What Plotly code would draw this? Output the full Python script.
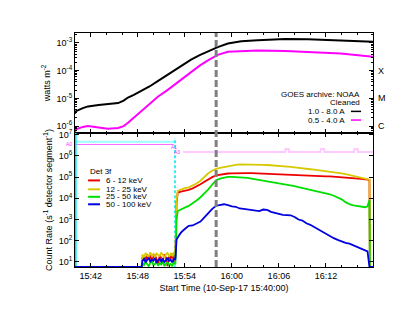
import plotly.graph_objects as go
from plotly.subplots import make_subplots
from datetime import datetime, timedelta

T0 = datetime(2017, 9, 10, 15, 40)

# ---------------- GOES (top panel) : minutes after 15:40, log10(W m^-2)
goes_t = [0, 0.13, 1.0, 1.66, 3.0, 4.2, 5.5, 6.2, 6.76, 7.5, 8.4, 9.5, 10.6, 11.7,
          12.75, 13.8, 14.8, 15.9, 17.0, 18.2, 19.5, 21.2, 23.3, 26.8, 29.7, 33.9, 38.0]
goes_long_log = [-5.55, -5.46, -5.35, -5.29, -5.24, -5.21, -5.17, -5.08, -4.97, -4.87, -4.74,
                 -4.57, -4.37, -4.17, -3.97, -3.78, -3.6, -3.44, -3.3, -3.15, -3.02, -2.94,
                 -2.9, -2.86, -2.87, -2.92, -2.96]
goes_short_log = [-6.2, -6.12, -6.03, -6.0, -6.05, -6.1, -6.07, -6.0, -5.88, -5.7, -5.47,
                  -5.2, -4.93, -4.72, -4.5, -4.27, -4.04, -3.82, -3.62, -3.43, -3.32, -3.29,
                  -3.27, -3.29, -3.32, -3.38, -3.5]

# ---------------- count rates (lower panel): minutes after 15:40, log10(counts)
cnt_t = [0, 8.5,
         8.6, 8.8, 9.0, 9.2, 9.4, 9.6, 9.8, 10.0, 10.2, 10.4, 10.6, 10.8, 11.0, 11.2, 11.4,
         11.6, 11.8, 12.0, 12.2, 12.4, 12.6, 12.8,
         12.95, 13.1, 13.5, 14.0, 14.5, 15.0, 15.5, 16.0, 16.5, 17.0, 17.5, 18.0, 18.5, 19.0,
         19.5, 20.0, 20.5, 21.0, 21.5, 22.0, 22.5, 23.0, 23.5, 24.0, 24.5, 25.0, 25.5, 26.0,
         26.5, 27.0, 27.5, 28.0, 28.5, 29.0, 29.5, 30.0, 30.5, 31.0, 31.5, 32.0, 32.5, 33.0,
         33.5, 34.0, 34.5, 35.0, 35.5, 36.0, 36.5, 37.0, 37.3, 37.55, 37.6, 38.0]

lg_6_12 = [0.76, 0.76,
           1.2, 1.3, 1.05, 1.35, 1.15, 1.3, 1.0, 1.25, 1.35, 1.1, 0.85, 1.3, 1.2, 1.05, 1.35,
           1.2, 0.8, 1.3, 1.15, 1.4, 1.0, 1.25,
           3.8, 4.27, 4.31, 4.35, 4.4, 4.47, 4.56, 4.66, 4.78, 4.9, 5.0, 5.08, 5.12, 5.15,
           5.17, 5.18, 5.19, 5.19, 5.2, 5.19, 5.19, 5.18, 5.18, 5.17, 5.16, 5.15, 5.15, 5.13,
           5.12, 5.11, 5.1, 5.09, 5.08, 5.08, 5.06, 5.06, 5.05, 5.05, 5.04, 5.03, 5.03, 5.02,
           5.01, 5.0, 4.99, 4.97, 4.96, 4.94, 4.92, 4.9, 4.88, 4.86, 0.76, 0.76]
lg_12_25 = [0.76, 0.76,
            1.35, 1.2, 1.42, 1.3, 1.25, 1.45, 1.3, 1.38, 1.22, 1.4, 1.33, 1.28, 1.44, 1.3, 1.2,
            1.36, 1.42, 1.25, 1.38, 1.3, 1.45, 1.32,
            3.9, 4.35, 4.42, 4.48, 4.52, 4.6, 4.7, 4.83, 5.0, 5.18, 5.3, 5.39, 5.44, 5.48,
            5.51, 5.55, 5.58, 5.6, 5.6, 5.61, 5.6, 5.6, 5.59, 5.58, 5.57, 5.56, 5.55, 5.54,
            5.52, 5.5, 5.48, 5.46, 5.43, 5.41, 5.39, 5.37, 5.35, 5.33, 5.31, 5.29, 5.26, 5.24,
            5.21, 5.18, 5.14, 5.1, 5.06, 5.03, 4.98, 4.93, 4.91, 4.88, 0.76, 0.76]
lg_25_50 = [0.76, 0.76,
            0.95, 0.85, 1.0, 0.9, 0.8, 0.95, 1.05, 0.85, 0.9, 1.0, 0.82, 0.95, 0.88, 1.02, 0.8,
            0.92, 0.98, 0.85, 0.9, 0.8, 1.0, 0.88,
            3.0, 3.4, 3.48, 3.56, 3.64, 3.75, 3.9, 4.05, 4.22, 4.42, 4.65, 4.85, 4.93, 4.98,
            5.01, 5.01, 5.0, 5.0, 4.98, 4.96, 4.93, 4.9, 4.86, 4.83, 4.8, 4.77, 4.74, 4.71,
            4.69, 4.66, 4.62, 4.57, 4.53, 4.49, 4.45, 4.42, 4.38, 4.34, 4.3, 4.25, 4.19, 4.12,
            4.05, 3.95, 3.82, 3.72, 3.67, 3.63, 3.6, 3.58, 3.62, 3.92, 0.76, 0.76]
lg_50_100 = [0.76, 0.76,
             1.05, 1.15, 0.98, 1.1, 1.2, 1.0, 1.12, 1.05, 1.18, 0.95, 1.1, 1.15, 1.02, 1.12, 1.0,
             1.08, 1.2, 1.05, 1.1, 0.98, 1.15, 1.1,
             2.05, 2.15, 2.38, 2.55, 2.7, 2.72, 2.82, 2.9, 3.1, 3.32, 3.5, 3.65, 3.68, 3.72,
             3.68, 3.62, 3.6, 3.52, 3.5, 3.47, 3.44, 3.42, 3.4, 3.47, 3.45, 3.36, 3.3, 3.27,
             3.22, 3.22, 3.2, 3.12, 3.0, 2.95, 2.82, 2.75, 2.64, 2.55, 2.42, 2.33, 2.22, 2.12,
             2.04, 1.96, 1.9, 1.86, 1.78, 1.72, 1.64, 1.56, 1.5, 0.76, 0.76, 0.76]

# attenuator / state markers (minutes, log10 counts)
att_cyan_t = [0.08, 12.75]
att_cyan_lg = [6.67, 6.67]
att_a0_t = [0.08, 12.6]
att_a0_lg = [6.54, 6.54]
att_a3_t = [13.77, 26.8, 26.85, 27.25, 27.3, 31.3, 31.35, 31.75, 31.8, 35.6, 35.65, 36.05, 36.1, 38.0]
att_a3_lg = [6.19, 6.19, 6.33, 6.33, 6.19, 6.19, 6.33, 6.33, 6.19, 6.19, 6.33, 6.33, 6.19, 6.19]
cyan_left_t = 0.08
cyan_dash_t = 12.75
peak_t = 18.0

x_tick_minutes = [2, 8, 14, 20, 26, 32]

FONT = "Liberation Sans, Arial, sans-serif"


def tt(mins):
    return [T0 + timedelta(minutes=m) for m in mins]


def pw(lg):
    return [10 ** v for v in lg]


fig = make_subplots(rows=2, cols=1, shared_xaxes=True, vertical_spacing=0,
                    row_heights=[0.4274, 0.5726])

fig.add_trace(go.Scatter(x=tt(goes_t), y=pw(goes_long_log), mode="lines",
                         line=dict(color="black", width=2), name="1.0 - 8.0 A"), row=1, col=1)
fig.add_trace(go.Scatter(x=tt(goes_t), y=pw(goes_short_log), mode="lines",
                         line=dict(color="#ff00ff", width=2), name="0.5 - 4.0 A"), row=1, col=1)

# state lines
fig.add_trace(go.Scatter(x=tt(att_cyan_t), y=pw(att_cyan_lg), mode="lines",
                         line=dict(color="#9ffcfc", width=2)), row=2, col=1)
fig.add_trace(go.Scatter(x=tt(att_a0_t), y=pw(att_a0_lg), mode="lines",
                         line=dict(color="#ff66ff", width=1)), row=2, col=1)
fig.add_trace(go.Scatter(x=tt(att_a3_t), y=pw(att_a3_lg), mode="lines",
                         line=dict(color="#ffc8ff", width=2)), row=2, col=1)
fig.add_trace(go.Scatter(x=tt([cyan_left_t, cyan_left_t]), y=[10 ** 0.7, 10 ** 7.1], mode="lines",
                         line=dict(color="#00e5ee", width=2)), row=2, col=1)
fig.add_trace(go.Scatter(x=tt([cyan_dash_t, cyan_dash_t]), y=[10 ** 0.7, 10 ** 6.85], mode="lines",
                         line=dict(color="#00e5ee", width=1.5, dash="3px,2px")), row=2, col=1)

series = [("6 - 12 keV", lg_6_12, "#ee0000"),
          ("12 - 25 keV", lg_12_25, "#d8c800"),
          ("25 - 50 keV", lg_25_50, "#00e000"),
          ("50 - 100 keV", lg_50_100, "#0000e0")]
for name, lg, col in series:
    fig.add_trace(go.Scatter(x=tt(cnt_t), y=pw(lg), mode="lines",
                             line=dict(color=col, width=1.8), name=name), row=2, col=1)

xr = [T0, T0 + timedelta(minutes=38)]
xcommon = dict(type="date", range=xr, showline=True, linecolor="black", linewidth=1,
               mirror="ticks", ticks="inside", ticklen=4, tickcolor="black",
               tickmode="array", tickvals=tt(x_tick_minutes),
               showgrid=False, zeroline=False,
               minor=dict(ticks="inside", ticklen=2, dtick=120000, tickcolor="black",
                          tick0=T0, showgrid=False),
               tickfont=dict(size=9, color="black", family=FONT))
fig.update_xaxes(**xcommon)
fig.update_xaxes(showticklabels=False, row=1, col=1)
fig.update_xaxes(showticklabels=True, tickformat="%H:%M", row=2, col=1,
                 title=dict(text="Start Time (10-Sep-17 15:40:00)", standoff=4,
                            font=dict(size=9, color="black", family=FONT)))

top_minor = [k * 10 ** d for d in range(-7, -2) for k in range(2, 10)]
fig.update_yaxes(type="log", range=[-6.25, -2.64], row=1, col=1,
                 tickvals=[1e-6, 1e-5, 1e-4, 1e-3],
                 ticktext=["10<sup>-6</sup>", "10<sup>-5</sup>", "10<sup>-4</sup>", "10<sup>-3</sup>"],
                 showline=True, linecolor="black", linewidth=1, mirror="ticks",
                 ticks="inside", ticklen=4, tickcolor="black", showgrid=False, zeroline=False,
                 minor=dict(tickmode="array", tickvals=top_minor, ticks="inside", ticklen=2,
                            tickcolor="black", showgrid=False),
                 tickfont=dict(size=9, color="black", family=FONT),
                 title=dict(text="watts m<sup>-2</sup>", standoff=4,
                            font=dict(size=9, color="black", family=FONT)))
fig.update_yaxes(type="log", range=[0.76, 7.08], row=2, col=1,
                 tickvals=[1e1, 1e2, 1e3, 1e4, 1e5, 1e6, 1e7],
                 ticktext=["10<sup>%d</sup>" % i for i in range(1, 8)],
                 showline=True, linecolor="black", linewidth=1, mirror="ticks",
                 ticks="inside", ticklen=4, tickcolor="black", showgrid=False, zeroline=False,
                 tickfont=dict(size=9, color="black", family=FONT),
                 title=dict(text="Count Rate (s<sup>-1</sup> detector segment<sup>-1</sup>)", standoff=4,
                            font=dict(size=9, color="black", family=FONT)))

shapes = [dict(type="line", xref="x", yref="paper", x0=T0 + timedelta(minutes=peak_t),
               x1=T0 + timedelta(minutes=peak_t), y0=0, y1=1,
               line=dict(color="#808080", width=3, dash="7px,3px"))]

ann = []
# GOES legend
for txt, y in [("GOES archive: NOAA", 0.736), ("Cleaned", 0.701)]:
    ann.append(dict(text=txt, xref="paper", yref="paper", x=0.962, y=y, xanchor="right",
                    yanchor="middle", showarrow=False, font=dict(size=8, color="black", family=FONT)))
for txt, y, col in [("1.0 - 8.0 A", 0.665, "black"), ("0.5 - 4.0 A", 0.628, "#ff00ff")]:
    ann.append(dict(text=txt, xref="paper", yref="paper", x=0.912, y=y, xanchor="right",
                    yanchor="middle", showarrow=False, font=dict(size=8, color="black", family=FONT)))
    shapes.append(dict(type="line", xref="paper", yref="paper", x0=0.926, x1=0.960, y0=y, y1=y,
                       line=dict(color=col, width=1.5)))
# GOES class labels
for txt, lv in [("X", -4), ("M", -5), ("C", -6)]:
    ann.append(dict(text=txt, xref="paper", yref="y", x=1.0, y=lv, xanchor="left", xshift=3,
                    yanchor="middle", showarrow=False, font=dict(size=9, color="black", family=FONT)))
# Detector legend
ann.append(dict(text="Det 3f", xref="paper", yref="paper", x=0.045, y=0.406, xanchor="left",
                yanchor="middle", showarrow=False, font=dict(size=8, color="black", family=FONT)))
for (name, lg, col), y in zip(series, [0.370, 0.332, 0.300, 0.268]):
    ann.append(dict(text=name, xref="paper", yref="paper", x=0.097, y=y, xanchor="left",
                    yanchor="middle", showarrow=False, font=dict(size=8, color="black", family=FONT)))
    shapes.append(dict(type="line", xref="paper", yref="paper", x0=0.044, x1=0.084, y0=y, y1=y,
                       line=dict(color=col, width=2)))
# attenuator labels
ann.append(dict(text="A0", xref="paper", yref="y2", x=0.0, y=6.54, xanchor="right", xshift=-1,
                yanchor="middle", showarrow=False, font=dict(size=5, color="#ff33ff", family=FONT)))
ann.append(dict(text="A1", xref="x2", yref="y2", x=T0 + timedelta(minutes=12.6), y=6.42,
                xanchor="center", yanchor="middle", showarrow=False,
                font=dict(size=5, color="#ff33ff", family=FONT)))
ann.append(dict(text="A3", xref="x2", yref="y2", x=T0 + timedelta(minutes=13.7), y=6.19,
                xanchor="right", yanchor="middle", showarrow=False,
                font=dict(size=5, color="#ff33ff", family=FONT)))

fig.update_layout(width=407, height=315, margin=dict(l=67, r=42, t=25, b=56),
                  paper_bgcolor="white", plot_bgcolor="white", showlegend=False,
                  shapes=shapes, annotations=ann, font=dict(family=FONT, color="black"))

fig.write_html("out.html")
